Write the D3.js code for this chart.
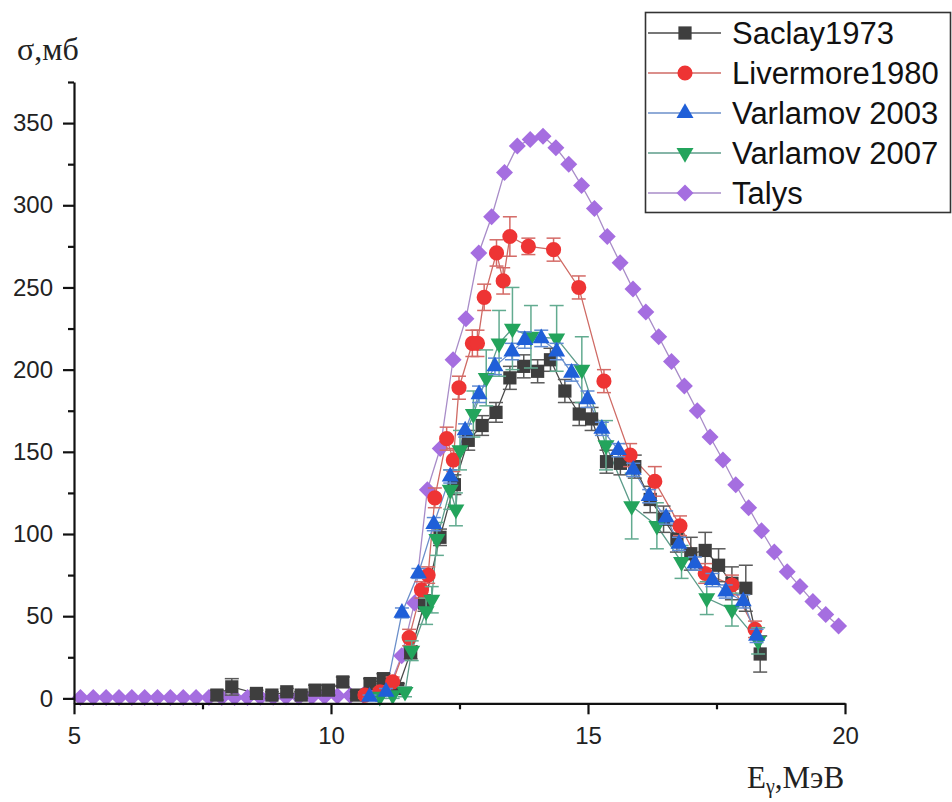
<!DOCTYPE html>
<html>
<head>
<meta charset="utf-8">
<script src="https://cdn.jsdelivr.net/npm/d3@7/dist/d3.min.js"></script>
<style>
  html, body { margin: 0; padding: 0; background: #fff; }
  svg { display: block; }
</style>
</head>
<body>
<svg id="chart" width="952" height="802"></svg>
<script>
// Photonuclear cross section data, energy in MeV, cross section in mb
const saclayE = [7.78, 8.07, 8.55, 8.85, 9.14, 9.42, 9.69, 9.95, 10.23, 10.5, 10.76, 11.02, 11.3, 11.55, 11.82, 12.12, 12.4, 12.67, 12.94, 13.21, 13.48, 13.75, 14.02, 14.27, 14.55, 14.83, 15.07, 15.36, 15.63, 15.91, 16.21, 16.47, 16.73, 17.0, 17.28, 17.54, 17.8, 18.07, 18.35];
const saclayV = [2, 7, 3, 2, 4, 2, 5, 5, 10, 2, 9, 12, 6, 28, 58, 98, 130, 157, 166, 174, 195, 202, 199, 206, 187, 173, 170, 144, 143, 141, 121, 109, 97, 88, 90, 81, 70, 67, 27];
const saclayErr = [3, 5, 2, 2, 2, 2, 3, 3, 3, 2, 3, 3, 3, 4, 5, 5, 6, 6, 6, 6, 7, 7, 7, 7, 7, 7, 7, 7, 7, 7, 8, 8, 8, 10, 11, 10, 10, 14, 11];

const livermoreE = [10.66, 10.95, 11.2, 11.52, 11.76, 11.89, 12.02, 12.25, 12.38, 12.49, 12.75, 12.85, 12.98, 13.22, 13.35, 13.48, 13.84, 14.33, 14.82, 15.31, 15.82, 16.3, 16.79, 17.28, 17.8, 18.25];
const livermoreV = [2, 4, 10, 37, 66, 75, 122, 158, 145, 189, 216, 216, 244, 271, 254, 281, 275, 273, 250, 193, 148, 132, 105, 76, 69, 42];
const livermoreErr = [2, 2, 3, 5, 5, 5, 6, 7, 7, 7, 8, 8, 8, 8, 8, 12, 5, 7, 7, 7, 7, 9, 6, 6, 6, 5];

const varlamov03E = [10.75, 11.07, 11.38, 11.7, 12.0, 12.32, 12.61, 12.88, 13.19, 13.52, 13.77, 14.09, 14.39, 14.68, 14.99, 15.27, 15.59, 15.88, 16.19, 16.52, 16.77, 17.08, 17.42, 17.68, 18.02, 18.28];
const varlamov03V = [1, 4, 52, 76, 106, 135, 163, 185, 202, 211, 218, 219, 211, 198, 182, 164, 151, 139, 123, 110, 94, 82, 72, 65, 59, 38];
const varlamov03Err = [1, 2, 3, 3, 4, 4, 4, 5, 5, 5, 5, 5, 5, 5, 5, 4, 4, 4, 4, 4, 4, 4, 4, 4, 4, 4];

const varlamov07E = [10.95, 11.2, 11.44, 11.57, 11.85, 11.96, 12.06, 12.32, 12.43, 12.51, 12.77, 13.02, 13.27, 13.53, 13.89, 14.39, 14.88, 15.35, 15.85, 16.34, 16.82, 17.31, 17.8, 18.31];
const varlamov07V = [1, 2, 4, 29, 53, 60, 97, 127, 115, 151, 173, 195, 216, 225, 220, 219, 200, 154, 117, 105, 83, 61, 54, 35];
const varlamov07Err = [1, 2, 3, 6, 8, 8, 10, 12, 10, 12, 14, 17, 20, 25, 19, 20, 20, 15, 20, 14, 10, 10, 10, 8];

const talysE = [5.125, 5.375, 5.625, 5.875, 6.125, 6.375, 6.625, 6.875, 7.125, 7.375, 7.625, 7.875,
  8.125, 8.375, 8.625, 8.875, 9.125, 9.375, 9.625, 9.875, 10.125, 10.375, 10.625, 10.875,
  11.125, 11.375, 11.625, 11.875, 12.125, 12.375, 12.625, 12.875, 13.125, 13.375, 13.625, 13.875,
  14.125, 14.375, 14.625, 14.875, 15.125, 15.375, 15.625, 15.875, 16.125, 16.375, 16.625, 16.875,
  17.125, 17.375, 17.625, 17.875, 18.125, 18.375, 18.625, 18.875, 19.125, 19.375, 19.625, 19.875];
const talysV = [0.5, 0.5, 0.5, 0.5, 0.5, 0.5, 0.5, 0.5, 0.5, 0.5, 0.5, 0.5,
  0.6, 0.6, 0.7, 0.7, 0.8, 0.9, 1.0, 1.2, 1.4, 1.7, 2.1, 2.8,
  6, 26, 58, 127, 152, 206, 231, 271, 293, 320, 336, 340,
  342, 335, 325, 312, 298, 281, 265, 249, 235, 220, 205, 190,
  175, 159, 145, 130, 116, 102, 89, 77, 68, 59, 51, 44];

const xTicks = [5, 10, 15, 20];
const xMinorTicks = [7.5, 12.5, 17.5];
const yTicks = [0, 50, 100, 150, 200, 250, 300, 350];
const yMinorTicks = [25, 75, 125, 175, 225, 275, 325, 375];

const seriesNames = ["Saclay1973", "Livermore1980", "Varlamov 2003", "Varlamov 2007", "Talys"];

const svg = d3.select("#chart");

const x = d3.scaleLinear().domain([5, 20]).range([74, 845]);
const y = d3.scaleLinear().domain([-3, 375]).range([703.3, 82]);

// marker shapes
const diamondPath = (s) => `M0,${-s}L${s},0L0,${s}L${-s},0Z`;
const shapes = {
  square: d3.symbol().type(d3.symbolSquare).size(175)(),
  circle: d3.symbol().type(d3.symbolCircle).size(180)(),
  triUp: d3.symbol().type(d3.symbolTriangle).size(125)(),
  triDown: d3.symbol().type(d3.symbolTriangle).size(125)(),
  diamond: diamondPath(8.5)
};

const series = [
  { name: seriesNames[4], E: talysE, V: talysV, err: null, shape: "diamond", rot: 0,
    fill: "#a56ee0", line: "#a88cc8", errColor: null },
  { name: seriesNames[0], E: saclayE, V: saclayV, err: saclayErr, shape: "square", rot: 0,
    fill: "#3e3e3e", line: "#4a4a4a", errColor: "#5a5a5a" },
  { name: seriesNames[1], E: livermoreE, V: livermoreV, err: livermoreErr, shape: "circle", rot: 0,
    fill: "#ee3434", line: "#cf6a64", errColor: "#d46a66" },
  { name: seriesNames[3], E: varlamov07E, V: varlamov07V, err: varlamov07Err, shape: "triDown", rot: 180,
    fill: "#23a45c", line: "#5d9c8a", errColor: "#62ab90" },
  { name: seriesNames[2], E: varlamov03E, V: varlamov03V, err: varlamov03Err, shape: "triUp", rot: 0,
    fill: "#1f5fd8", line: "#6b8fca", errColor: "#5f8bd2" }
];

const line = d3.line().x(d => x(d[0])).y(d => y(d[1]));

// connecting lines first
series.forEach(s => {
  const pts = s.E.map((e, i) => [e, s.V[i]]);
  svg.append("path")
    .attr("d", line(pts))
    .attr("fill", "none")
    .attr("stroke", s.line)
    .attr("stroke-width", 1.3);
});

// error bars and markers per series
series.forEach(s => {
  const g = svg.append("g");
  if (s.err) {
    s.E.forEach((e, i) => {
      const cx = x(e), lo = y(s.V[i] - s.err[i]), hi = y(s.V[i] + s.err[i]);
      g.append("line").attr("x1", cx).attr("x2", cx).attr("y1", lo).attr("y2", hi)
        .attr("stroke", s.errColor).attr("stroke-width", 1.5);
      [lo, hi].forEach(yy => {
        g.append("line").attr("x1", cx - 7).attr("x2", cx + 7).attr("y1", yy).attr("y2", yy)
          .attr("stroke", s.errColor).attr("stroke-width", 1.5);
      });
    });
  }
  s.E.forEach((e, i) => {
    g.append("path")
      .attr("d", shapes[s.shape])
      .attr("transform", `translate(${x(e)},${y(s.V[i])}) rotate(${s.rot})`)
      .attr("fill", s.fill);
  });
});

// axes
const axisFont = "'Liberation Sans', Arial, sans-serif";
svg.append("g").attr("transform", `translate(0,${y.range()[0]})`)
  .call(d3.axisBottom(x).tickValues(xTicks).tickSize(11).tickPadding(13).tickFormat(d3.format("d")).tickSizeOuter(0));
svg.append("g").attr("transform", `translate(0,${y.range()[0]})`)
  .call(d3.axisBottom(x).tickValues(xMinorTicks).tickSize(6).tickFormat("").tickSizeOuter(0))
  .select(".domain").remove();
svg.append("g").attr("transform", `translate(${x.range()[0]},0)`)
  .call(d3.axisLeft(y).tickValues(yTicks).tickSize(11).tickPadding(10).tickFormat(d3.format("d")).tickSizeOuter(0));
svg.append("g").attr("transform", `translate(${x.range()[0]},0)`)
  .call(d3.axisLeft(y).tickValues(yMinorTicks).tickSize(6).tickFormat("").tickSizeOuter(0))
  .select(".domain").remove();

svg.selectAll(".domain").attr("stroke", "#111").attr("stroke-width", 2.2);
svg.selectAll(".tick line").attr("stroke", "#111").attr("stroke-width", 2.2);
svg.selectAll(".tick text").attr("font-family", axisFont).attr("font-size", 24).attr("fill", "#222");

// axis titles
const serif = "'Liberation Serif', 'Times New Roman', serif";
svg.append("text").attr("x", 17).attr("y", 60)
  .attr("font-family", serif).attr("font-size", 32).attr("fill", "#222")
  .text("σ,мб");
const xt = svg.append("text").attr("x", 747).attr("y", 788)
  .attr("font-family", serif).attr("font-size", 31).attr("fill", "#222");
xt.append("tspan").text("E");
xt.append("tspan").attr("font-size", 20).attr("dy", 5).text("γ");
xt.append("tspan").attr("dy", -5).text(",МэВ");

// legend
const lg = svg.append("g");
lg.append("rect").attr("x", 645.5).attr("y", 12.5).attr("width", 305).attr("height", 200)
  .attr("fill", "#fff").attr("stroke", "#333").attr("stroke-width", 1.6);
const legendOrder = [1, 2, 4, 3, 0];
legendOrder.forEach((si, k) => {
  const s = series[si];
  const ly = 33 + k * 40;
  lg.append("line").attr("x1", 648).attr("x2", 721).attr("y1", ly).attr("y2", ly)
    .attr("stroke", s.line).attr("stroke-width", 1.5);
  lg.append("path").attr("d", shapes[s.shape])
    .attr("transform", `translate(685,${ly}) rotate(${s.rot})`).attr("fill", s.fill);
  lg.append("text").attr("x", 732).attr("y", ly).attr("dy", "0.36em")
    .attr("font-family", axisFont).attr("font-size", 31).attr("fill", "#111")
    .text(s.name);
});
</script>
</body>
</html>
